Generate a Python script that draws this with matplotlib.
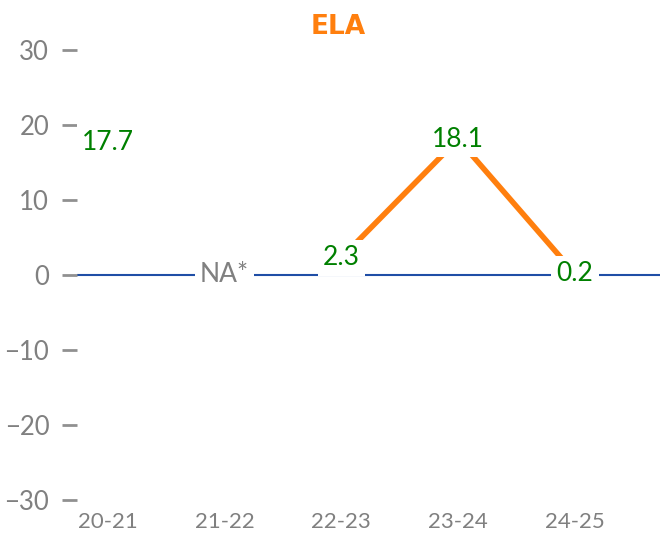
import matplotlib
matplotlib.use("Agg")
import matplotlib.pyplot as plt
import numpy as np

categories = ["20-21", "21-22", "22-23", "23-24", "24-25"]
values = [17.7, None, 2.3, 18.1, 0.2]
labels = ["17.7", "NA*", "2.3", "18.1", "0.2"]
yticks = [-30, -20, -10, 0, 10, 20, 30]
title = "ELA"

fig = plt.figure(figsize=(6.6, 5.4), dpi=100)
ax = fig.add_axes([77/660, 40/540, 583/660, 450/540])

x = np.arange(len(categories))
ax.axhline(0, color="#1f4ea6", lw=1.5, zorder=1)

# orange line segments (broken at missing values)
seg_x, seg_y = [], []
for i, v in enumerate(values):
    if v is None:
        if len(seg_x) > 1:
            ax.plot(seg_x, seg_y, color="#ff7f0e", lw=4, zorder=2, solid_capstyle="butt")
        seg_x, seg_y = [], []
    else:
        seg_x.append(x[i]); seg_y.append(v)
if len(seg_x) > 1:
    ax.plot(seg_x, seg_y, color="#ff7f0e", lw=4, zorder=2, solid_capstyle="butt")

for i, (v, lab) in enumerate(zip(values, labels)):
    if v is None:
        ax.text(x[i], 0, lab, ha="center", va="center", fontsize=19, color="#808080",
                family="Lato", zorder=3,
                bbox=dict(boxstyle="square,pad=0.2", fc="white", ec="none"))
    else:
        ax.text(x[i], v, lab, ha="center", va="center", fontsize=19, color="#008000",
                family="Lato", zorder=3,
                bbox=dict(boxstyle="square,pad=0.2", fc="white", ec="none"))

ax.set_xlim(-0.265, 4.73)
ax.set_ylim(-30, 30)
ax.set_yticks(yticks)
ax.set_yticklabels(["\u2212" + str(-t) if t < 0 else str(t) for t in yticks],
                   family="Lato", fontsize=18.5, color="#808080")
ax.set_xticks(x)
ax.set_xticklabels(categories, family="Lato", fontsize=16, color="#808080")
ax.tick_params(axis="y", length=11, width=2, color="#909090", pad=9)
ax.tick_params(axis="x", length=0, pad=9)
for s in ax.spines.values():
    s.set_visible(False)

fig.text(338/660, 1 - 27/540, title, ha="center", va="center", fontsize=19,
         fontweight="bold", color="#ff7f0e", family="DejaVu Sans")

fig.savefig("out.png", dpi=100)
